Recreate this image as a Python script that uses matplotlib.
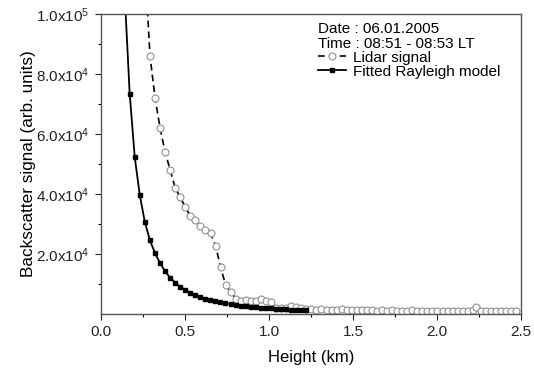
import matplotlib
matplotlib.use("Agg")
import matplotlib.pyplot as plt
from matplotlib.ticker import FixedLocator, FixedFormatter, MultipleLocator

plt.rcParams['font.family'] = ['Liberation Sans', 'DejaVu Sans']
plt.rcParams['mathtext.fontset'] = 'custom'
plt.rcParams['mathtext.rm'] = 'Liberation Sans'
plt.rcParams['mathtext.it'] = 'Liberation Sans'

# Lidar signal (km, arb. units)
lidar_h = [0.262, 0.292, 0.322, 0.352, 0.382, 0.412, 0.442, 0.472, 0.502, 0.532,
           0.562, 0.592, 0.622, 0.652, 0.682, 0.712, 0.742, 0.772, 0.802, 0.832,
           0.862, 0.892, 0.922, 0.952, 0.982, 1.012, 1.042, 1.072, 1.102, 1.132,
           1.162, 1.192, 1.222, 1.252, 1.282, 1.312, 1.342, 1.372, 1.402, 1.432,
           1.462, 1.492, 1.522, 1.552, 1.582, 1.612, 1.642, 1.672, 1.702, 1.732,
           1.762, 1.792, 1.822, 1.852, 1.882, 1.912, 1.942, 1.972, 2.002, 2.032,
           2.062, 2.092, 2.122, 2.152, 2.182, 2.212, 2.232, 2.262, 2.292, 2.322,
           2.352, 2.382, 2.412, 2.442, 2.472]
lidar_v = [116000, 86000, 72000, 62000, 54000, 48000, 42000, 39000, 35600, 32800,
           31500, 29400, 28000, 26900, 22800, 15600, 9700, 7400, 5200, 4400,
           4700, 4400, 4400, 5000, 4400, 3900, 2100, 2100, 2200, 2600,
           2400, 2200, 1700, 1600, 1500, 1700, 1500, 1400, 1500, 1600,
           1400, 1300, 1400, 1300, 1400, 1300, 1200, 1300, 1200, 1300,
           1200, 1100, 1200, 1300, 1200, 1100, 1200, 1100, 1000, 1100,
           1200, 1100, 1000, 1100, 1200, 1300, 2300, 1100, 1000, 1000,
           900, 1000, 900, 1100, 900]

# Fitted Rayleigh model
model_h = [0.141, 0.171, 0.201, 0.231, 0.261, 0.291, 0.321, 0.351, 0.381, 0.411,
           0.441, 0.471, 0.501, 0.531, 0.561, 0.591, 0.621, 0.651, 0.681, 0.711,
           0.741, 0.771, 0.801, 0.831, 0.861, 0.891, 0.921, 0.951, 0.981, 1.011,
           1.041, 1.071, 1.101, 1.131, 1.161, 1.191, 1.221]
model_v = [107000, 73500, 52400, 39700, 30800, 24700, 20400, 17100, 14300, 12200,
           10500, 9200, 8100, 7200, 6400, 5800, 5200, 4750, 4300, 3950,
           3600, 3350, 3100, 2850, 2650, 2450, 2300, 2150, 2000, 1900,
           1780, 1680, 1590, 1500, 1420, 1350, 1280]

y_ticks = [20000, 40000, 60000, 80000, 100000]
y_labels = [r'2.0x10$^4$', r'4.0x10$^4$', r'6.0x10$^4$', r'8.0x10$^4$', r'1.0x10$^5$']

fig = plt.figure(figsize=(5.34, 3.70), dpi=100)
ax = fig.add_axes([0.189, 0.151, 0.787, 0.811])

ax.plot(lidar_h, lidar_v, color='black', linestyle=(0, (4, 2.5)), linewidth=1.2,
        marker='o', markersize=5, markerfacecolor='white', markeredgecolor='#909090',
        markeredgewidth=0.8, label='Lidar signal')
ax.plot(model_h, model_v, color='black', linewidth=1.3,
        marker='s', markersize=3.3, markerfacecolor='black', markeredgecolor='black',
        label='Fitted Rayleigh model')

ax.set_xlim(0, 2.5)
ax.set_ylim(0, 100000)
ax.xaxis.set_major_locator(MultipleLocator(0.5))
ax.xaxis.set_minor_locator(MultipleLocator(0.25))
ax.xaxis.set_major_formatter(plt.FormatStrFormatter('%.1f'))
ax.yaxis.set_major_locator(FixedLocator(y_ticks))
ax.yaxis.set_major_formatter(FixedFormatter(y_labels))
ax.yaxis.set_minor_locator(FixedLocator([10000, 30000, 50000, 70000, 90000]))

ax.tick_params(which='major', direction='out', length=4.5, width=0.8, labelsize=11, colors='#222222')
ax.tick_params(which='minor', direction='out', length=2.5, width=0.8)
for s in ax.spines.values():
    s.set_color('#555555')
    s.set_linewidth(1.0)

ax.set_xlabel('Height (km)', fontsize=12, labelpad=8)
ax.set_ylabel('Backscatter signal (arb. units)', fontsize=12.3, labelpad=0.5)

ax.text(0.517, 0.951, 'Date : 06.01.2005', transform=ax.transAxes, fontsize=11,
        va='center', ha='left')
ax.text(0.517, 0.899, 'Time : 08:51 - 08:53 LT', transform=ax.transAxes, fontsize=11,
        va='center', ha='left')
leg = ax.legend(loc='upper left', bbox_to_anchor=(0.517, 0.878), frameon=False,
                fontsize=11, handlelength=1.8, handletextpad=0.45,
                labelspacing=0.0, borderaxespad=0, borderpad=0)

fig.savefig('out.png', dpi=100)
